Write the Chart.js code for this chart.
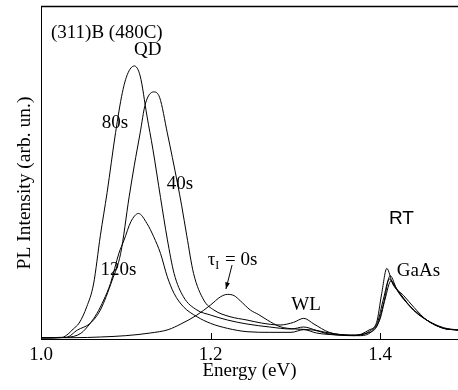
<!DOCTYPE html>
<html>
<head>
<meta charset="utf-8">
<script src="https://cdn.jsdelivr.net/npm/chart.js@4.4.0/dist/chart.umd.min.js"></script>
<style>
  html, body { margin: 0; padding: 0; background: #fff; }
  #wrap { width: 458px; height: 390px; }
</style>
</head>
<body>
<div id="wrap"><canvas id="plChart" width="458" height="390"></canvas></div>
<script>
// x axis tick labels (eV)
const xTicks = [1.0, 1.2, 1.4];

// tau_I = 80s
const energy80 = [1.000, 1.025, 1.032, 1.038, 1.045, 1.054, 1.062, 1.070, 1.078, 1.088, 1.096, 1.102, 1.110, 1.117, 1.125, 1.132, 1.141, 1.149, 1.157, 1.168, 1.184, 1.200, 1.220, 1.243, 1.270, 1.295, 1.310, 1.325, 1.345, 1.370, 1.388, 1.397, 1.404, 1.411, 1.418, 1.428, 1.440, 1.455, 1.475, 1.492];
const pl80 = [0.4, 0.5, 1.5, 3.0, 4.8, 9.7, 16.5, 31.0, 44.0, 62.0, 74.0, 79.5, 82.0, 79.0, 67.0, 57.0, 42.5, 30.0, 19.7, 12.7, 8.7, 7.2, 5.7, 4.5, 3.6, 3.0, 3.6, 2.6, 1.6, 1.1, 2.4, 5.0, 12.0, 18.0, 15.5, 12.0, 8.5, 5.7, 3.4, 2.7];

// tau_I = 40s
const energy40 = [1.000, 1.030, 1.043, 1.058, 1.070, 1.084, 1.094, 1.104, 1.110, 1.117, 1.123, 1.133, 1.140, 1.149, 1.161, 1.166, 1.172, 1.180, 1.192, 1.204, 1.223, 1.243, 1.260, 1.282, 1.298, 1.310, 1.322, 1.340, 1.365, 1.388, 1.397, 1.404, 1.412, 1.420, 1.436, 1.455, 1.475, 1.492];
const pl40 = [0.3, 0.5, 2.7, 4.7, 8.7, 17.7, 25.7, 42.7, 52.0, 61.9, 70.5, 74.2, 72.5, 61.9, 46.8, 40.0, 31.0, 19.7, 11.7, 8.7, 6.7, 5.7, 4.8, 4.2, 5.0, 6.2, 4.5, 2.0, 1.2, 2.0, 4.2, 10.5, 19.0, 14.7, 9.7, 5.7, 3.2, 2.7];

// tau_I = 120s
const energy120 = [1.000, 1.030, 1.047, 1.058, 1.066, 1.074, 1.082, 1.092, 1.098, 1.106, 1.115, 1.125, 1.133, 1.141, 1.149, 1.157, 1.168, 1.184, 1.200, 1.220, 1.243, 1.270, 1.295, 1.310, 1.325, 1.350, 1.375, 1.390, 1.400, 1.406, 1.413, 1.420, 1.436, 1.455, 1.475, 1.492];
const pl120 = [0.3, 0.5, 1.7, 4.7, 7.7, 11.7, 16.7, 25.8, 29.7, 35.2, 37.7, 34.7, 30.7, 25.7, 18.7, 13.7, 9.7, 6.7, 4.7, 3.2, 2.2, 2.0, 2.0, 2.8, 1.8, 1.2, 1.0, 2.2, 6.0, 12.0, 17.5, 15.0, 9.7, 5.7, 3.2, 2.7];

// tau_I = 0s
const energy0 = [1.000, 1.040, 1.070, 1.100, 1.129, 1.150, 1.165, 1.184, 1.200, 1.212, 1.220, 1.228, 1.235, 1.247, 1.257, 1.267, 1.282, 1.300, 1.321, 1.340, 1.370, 1.387, 1.396, 1.402, 1.408, 1.415, 1.428, 1.440, 1.455, 1.475, 1.492];
const pl0 = [0.4, 0.4, 0.6, 1.0, 1.8, 2.8, 4.5, 7.2, 10.2, 12.7, 13.4, 13.0, 11.5, 8.7, 7.3, 5.7, 3.7, 3.0, 2.7, 1.5, 1.0, 2.7, 5.0, 13.7, 21.2, 16.5, 13.0, 9.5, 5.7, 3.2, 2.7];

// text labels placed in data coordinates [text, energy, intensity, align, font]
const serif = "'Liberation Serif', 'Times New Roman', serif";
const notes = [
    ["(311)B (480C)", 1.0118, 91.9, "left", "19px " + serif],
    ["QD", 1.126, 86.8, "center", "19px " + serif],
    ["80s", 1.0873, 64.9, "center", "19px " + serif],
    ["40s", 1.164, 46.5, "center", "19px " + serif],
    ["120s", 1.0914, 20.7, "center", "19px " + serif],
    ["WL", 1.3127, 10.2, "center", "19px " + serif],
    ["RT", 1.4253, 36.0, "center", "19px 'Liberation Sans', Arial, sans-serif"],
    ["GaAs", 1.4454, 20.4, "center", "19px " + serif]
];

function toPoints(xs, ys) {
    return xs.map((x, i) => ({ x: x, y: ys[i] }));
}

function curve(label, xs, ys) {
    return {
        label: label,
        data: toPoints(xs, ys),
        borderColor: "#000",
        borderWidth: 1,
        pointRadius: 0,
        fill: false,
        cubicInterpolationMode: "monotone",
        tension: 0.4
    };
}

// frame, inner ticks, labels, arrow, y title
const decorations = {
    id: "decorations",
    afterDraw(chart) {
        const ctx = chart.ctx;
        const xs = chart.scales.x;
        const ys = chart.scales.y;
        const area = chart.chartArea;
        ctx.save();
        ctx.strokeStyle = "#000";
        ctx.fillStyle = "#000";

        // top frame line
        ctx.lineWidth = 1.5;
        ctx.beginPath();
        ctx.moveTo(area.left, area.top + 0.5);
        ctx.lineTo(area.right, area.top + 0.5);
        ctx.stroke();

        // inward tick marks
        ctx.lineWidth = 1;
        xTicks.forEach(v => {
            const px = Math.round(xs.getPixelForValue(v)) + 0.5;
            ctx.beginPath();
            ctx.moveTo(px, area.bottom);
            ctx.lineTo(px, area.bottom - 6);
            ctx.stroke();
        });

        ctx.textBaseline = "middle";
        notes.forEach(n => {
            ctx.font = n[4];
            ctx.textAlign = n[3];
            ctx.fillText(n[0], xs.getPixelForValue(n[1]), ys.getPixelForValue(n[2]));
        });

        // tau_I = 0s with subscript
        let tx = xs.getPixelForValue(1.1966);
        const ty = ys.getPixelForValue(23.7);
        ctx.textAlign = "left";
        ctx.font = "19px " + serif;
        ctx.fillText("\u03c4", tx, ty);
        tx += ctx.measureText("\u03c4").width;
        ctx.font = "12px " + serif;
        ctx.fillText("I", tx, ty + 6);
        tx += ctx.measureText("I").width + 1;
        ctx.font = "19px " + serif;
        ctx.fillText(" = 0s", tx, ty);

        // arrow to the 0s peak
        const ax0 = xs.getPixelForValue(1.2254), ay0 = ys.getPixelForValue(22.2);
        const ax1 = xs.getPixelForValue(1.2182), ay1 = ys.getPixelForValue(15.0);
        ctx.beginPath();
        ctx.moveTo(ax0, ay0);
        ctx.lineTo(ax1, ay1);
        ctx.stroke();
        const ang = Math.atan2(ay1 - ay0, ax1 - ax0);
        ctx.beginPath();
        ctx.moveTo(ax1, ay1);
        ctx.lineTo(ax1 - 7 * Math.cos(ang - 0.35), ay1 - 7 * Math.sin(ang - 0.35));
        ctx.lineTo(ax1 - 7 * Math.cos(ang + 0.35), ay1 - 7 * Math.sin(ang + 0.35));
        ctx.closePath();
        ctx.fill();

        // y axis title
        ctx.translate(24.5, 183);
        ctx.rotate(-Math.PI / 2);
        ctx.font = "19.5px " + serif;
        ctx.textAlign = "center";
        ctx.fillText("PL Intensity (arb. un.)", 0, 0);
        ctx.restore();
    }
};

const ctx = document.getElementById("plChart").getContext("2d");
new Chart(ctx, {
    type: "line",
    data: {
        datasets: [
            curve("80s", energy80, pl80),
            curve("40s", energy40, pl40),
            curve("120s", energy120, pl120),
            curve("0s", energy0, pl0)
        ]
    },
    options: {
        responsive: false,
        animation: false,
        devicePixelRatio: 1,
        layout: { padding: { top: 6, right: 0, left: 0, bottom: 0 } },
        plugins: {
            legend: { display: false },
            tooltip: { enabled: false }
        },
        scales: {
            x: {
                type: "linear",
                min: 1.0,
                max: 1.492,
                afterBuildTicks: scale => { scale.ticks = xTicks.map(v => ({ value: v })); },
                afterFit: scale => { scale.height = 51; },
                grid: { display: false },
                border: { display: true, color: "#000", width: 1 },
                ticks: {
                    autoSkip: false,
                    maxRotation: 0,
                    padding: -3,
                    color: "#000",
                    font: { family: serif, size: 19 },
                    callback: v => Number(v).toFixed(1)
                },
                title: {
                    display: true,
                    text: "Energy (eV)",
                    color: "#000",
                    font: { family: serif, size: 19 },
                    padding: { top: 0, bottom: 8 }
                }
            },
            y: {
                min: 0,
                max: 100,
                afterFit: scale => { scale.width = 41; },
                grid: { display: false },
                border: { display: true, color: "#000", width: 1 },
                ticks: { display: false }
            }
        }
    },
    plugins: [decorations]
});
</script>
</body>
</html>
